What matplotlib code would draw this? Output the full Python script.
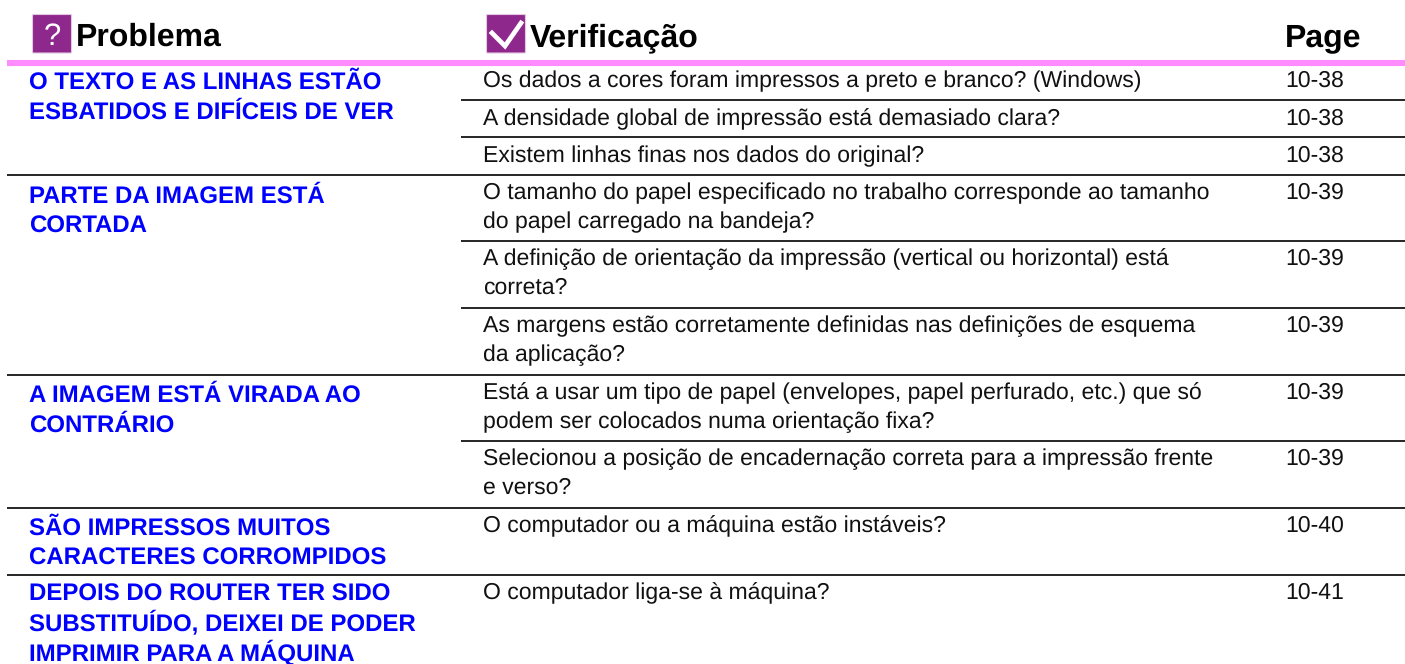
import matplotlib.pyplot as plt
from matplotlib.patches import FancyBboxPatch

plt.rcParams['font.family'] = ['Liberation Sans', 'DejaVu Sans']
plt.rcParams['text.hinting'] = 'no_hinting'
plt.rcParams['text.hinting_factor'] = 1

# Cabecalhos
titulo_problema = 'Problema'
titulo_verificacao = 'Verificação'
titulo_pagina = 'Page'

problemas = [
    'O TEXTO E AS LINHAS ESTÃO\nESBATIDOS E DIFÍCEIS DE VER',
    'PARTE DA IMAGEM ESTÁ\nCORTADA',
    'A IMAGEM ESTÁ VIRADA AO\nCONTRÁRIO',
    'SÃO IMPRESSOS MUITOS\nCARACTERES CORROMPIDOS',
    'DEPOIS DO ROUTER TER SIDO\nSUBSTITUÍDO, DEIXEI DE PODER\nIMPRIMIR PARA A MÁQUINA',
]
verificacoes = [
    'Os dados a cores foram impressos a preto e branco? (Windows)',
    'A densidade global de impressão está demasiado clara?',
    'Existem linhas finas nos dados do original?',
    'O tamanho do papel especificado no trabalho corresponde ao tamanho\ndo papel carregado na bandeja?',
    'A definição de orientação da impressão (vertical ou horizontal) está\ncorreta?',
    'As margens estão corretamente definidas nas definições de esquema\nda aplicação?',
    'Está a usar um tipo de papel (envelopes, papel perfurado, etc.) que só\npodem ser colocados numa orientação fixa?',
    'Selecionou a posição de encadernação correta para a impressão frente\ne verso?',
    'O computador ou a máquina estão instáveis?',
    'O computador liga-se à máquina?',
]
paginas = ['10-38', '10-38', '10-38', '10-39', '10-39', '10-39', '10-39', '10-39', '10-40', '10-41']

# Baselines e linhas (pixels)
base_verif = [87, 125, 162, 199, 265, 332, 399, 465, 532, 599]
base_prob = [89, 203, 402, 535, 601]
linhas_cheias = [174.5, 374.5, 508, 574.5]
linhas_parciais = [100, 137, 241, 308, 441]

fig = plt.figure(figsize=(14.05, 6.64), dpi=100)
ax = fig.add_axes([0, 0, 1, 1])
ax.set_xlim(0, 1405)
ax.set_ylim(664, 0)
ax.axis('off')

roxo = '#8f288c'
for x0 in [32, 486]:
    ax.add_patch(FancyBboxPatch((x0 + 0.5, 14.5), 39, 38.5, boxstyle='round,pad=0,rounding_size=1',
                                fc=roxo, ec='#e3c8e2', lw=0.8))
ax.text(52, 45, '?', color='white', fontsize=22, ha='center', va='baseline')
ax.plot([492, 505, 521], [33, 46, 23], color='white', lw=3.4, solid_joinstyle='miter')

ax.text(76, 46, titulo_problema, fontsize=22.8, fontweight='bold', va='baseline')
ax.text(530, 46, titulo_verificacao, fontsize=22.8, fontweight='bold', va='baseline')
ax.text(1285, 46, titulo_pagina, fontsize=22.8, fontweight='bold', va='baseline')

ax.plot([7, 1405], [63, 63], color='#ff8cff', lw=4.4, solid_capstyle='butt')
for y in linhas_cheias:
    ax.plot([7, 1405], [y, y], color='black', lw=1.2, solid_capstyle='butt')
for y in linhas_parciais:
    ax.plot([461, 1405], [y, y], color='black', lw=1.2, solid_capstyle='butt')


def escreve(x, y, texto, passo, **kw):
    # matplotlib so alinha a primeira baseline por linha, por isso uma a uma
    for i, parte in enumerate(texto.split('\n')):
        ax.text(x, y + i * passo, parte, va='baseline', **kw)


for y, texto in zip(base_prob, problemas):
    escreve(29, y, texto, 29.5, fontsize=17.3, fontweight='bold', color='#0000ff')
for y, texto in zip(base_verif, verificacoes):
    escreve(483, y, texto, 29, fontsize=16.85, color='#111111')
for y, texto in zip(base_verif, paginas):
    ax.text(1285, y, texto, fontsize=16.85, color='#111111', va='baseline')

fig.savefig('out.png', dpi=100)
